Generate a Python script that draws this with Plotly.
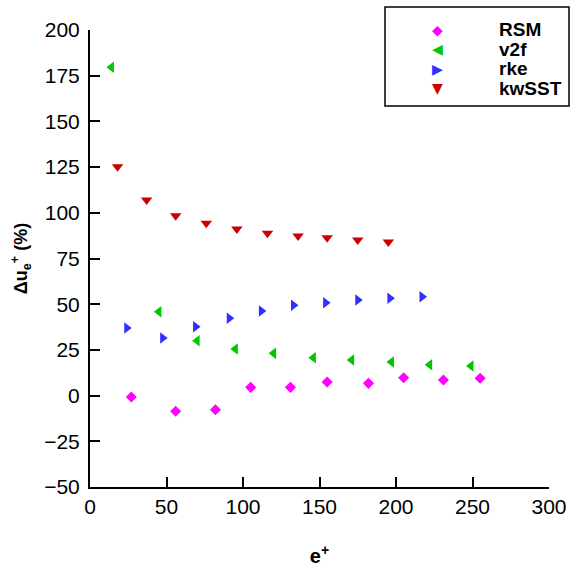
import plotly.graph_objects as go

# Deviation of the log-law intercept vs. roughness height for four turbulence models
rsm_x = [27, 56, 82, 105, 131, 155, 182, 205, 231, 255]
rsm_y = [-0.8, -8.6, -7.7, 4.5, 4.5, 7.4, 6.7, 9.8, 8.5, 9.5]

v2f_x = [14, 45, 70, 95, 120, 146, 171, 197, 222, 249]
v2f_y = [179.6, 45.9, 30.0, 25.5, 23.1, 20.7, 19.5, 18.4, 16.9, 16.2]

rke_x = [24, 47.5, 69, 91, 112, 133, 154, 175, 196, 217]
rke_y = [37.0, 31.5, 37.7, 42.3, 46.3, 49.4, 50.8, 52.3, 53.2, 54.1]

kw_x = [18, 37, 56, 76, 96, 116, 136, 155, 175, 195]
kw_y = [125.2, 107.0, 98.4, 94.3, 91.1, 88.8, 87.3, 86.4, 85.1, 84.0]

x_ticks = [0, 50, 100, 150, 200, 250, 300]
y_ticks = [-50, -25, 0, 25, 50, 75, 100, 125, 150, 175, 200]

series = [
    ("RSM", rsm_x, rsm_y, "diamond", "#FF00FF", 8.5),
    ("v2f", v2f_x, v2f_y, "triangle-left", "#00C800", 10),
    ("rke", rke_x, rke_y, "triangle-right", "#2F2FFF", 10),
    ("kwSST", kw_x, kw_y, "triangle-down", "#CC0000", 10),
]

# glyphs used in the key box for each marker symbol
key_glyph = {
    "diamond": "\u25C6",
    "triangle-left": "\u25C0",
    "triangle-right": "\u25B6",
    "triangle-down": "\u25BC",
}

FONT = "Liberation Sans, Arial, sans-serif"
W, H = 570, 567
ML, MR, MT, MB = 90, 21, 30, 80
PW, PH = W - ML - MR, H - MT - MB


def px_to_paper(px, py):
    return (px - ML) / PW, (H - MB - py) / PH


fig = go.Figure()
for name, xs, ys, sym, col, sz in series:
    fig.add_trace(go.Scatter(
        x=xs, y=ys, mode="markers", name=name, showlegend=False,
        marker=dict(symbol=sym, color=col, size=sz, line=dict(width=0)),
    ))

# key box in the upper right corner
bx0, by0 = px_to_paper(385, 106)
bx1, by1 = px_to_paper(569, 7)
fig.add_shape(type="rect", xref="paper", yref="paper", x0=bx0, y0=by0, x1=bx1, y1=by1,
              line=dict(color="black", width=1.5), fillcolor="white", layer="above")

row_top, row_step = 29.5, 19.6
for i, (name, xs, ys, sym, col, sz) in enumerate(series):
    ry = row_top + i * row_step
    gx, gy = px_to_paper(437, ry)
    tx, ty = px_to_paper(497, ry)
    fig.add_annotation(x=gx, y=gy, xref="paper", yref="paper", text=key_glyph[sym],
                       showarrow=False, xanchor="center", yanchor="middle",
                       font=dict(family="DejaVu Sans", size=14, color=col))
    fig.add_annotation(x=tx, y=ty, xref="paper", yref="paper", text=name,
                       showarrow=False, xanchor="left", yanchor="middle",
                       font=dict(family=FONT, size=19, color="black", weight="bold"))

axis_font = dict(family=FONT, size=21, color="black")

fig.update_layout(
    width=W, height=H,
    margin=dict(l=ML, r=MR, t=MT, b=MB, autoexpand=False),
    plot_bgcolor="white", paper_bgcolor="white",
    showlegend=False,
    xaxis=dict(
        range=[0, 300], tickvals=x_ticks, showgrid=False, zeroline=False,
        showline=True, linecolor="black", linewidth=2,
        ticks="inside", ticklen=10, tickwidth=2, tickcolor="black",
        tickfont=axis_font,
        title=dict(text="e<sup>+</sup>", font=dict(family=FONT, size=20, color="black", weight="bold"), standoff=33),
    ),
    yaxis=dict(
        range=[-50, 200], tickvals=y_ticks, showgrid=False, zeroline=False,
        showline=True, linecolor="black", linewidth=2,
        ticks="inside", ticklen=10, tickwidth=2, tickcolor="black",
        tickfont=axis_font, ticklabelstandoff=4,
        title=dict(text="\u0394u<sub>e</sub><sup>+</sup> (%)", font=dict(family=FONT, size=18, color="black", weight="bold"), standoff=12),
    ),
)

fig.write_html("out.html")
